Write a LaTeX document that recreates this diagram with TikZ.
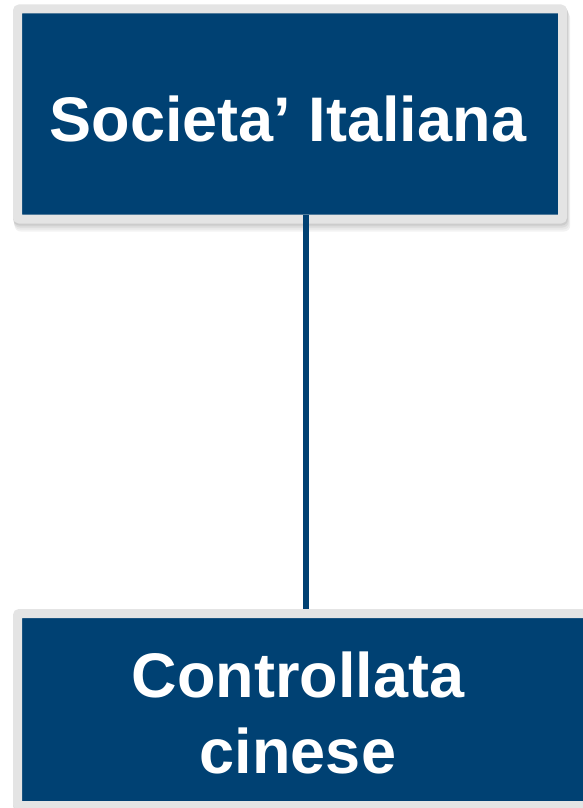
\documentclass[tikz,border=0pt]{standalone}
\usepackage{fontspec}
\setmainfont{Liberation Sans}
\usetikzlibrary{backgrounds,calc}
\definecolor{boxblue}{RGB}{0,65,115}
\definecolor{framegrey}{RGB}{228,228,228}
\begin{document}
\begin{tikzpicture}[x=1pt,y=1pt,
  boxnode/.style={draw=framegrey, line width=9pt, fill=boxblue, rounded corners=2pt, inner sep=0pt, outer sep=0pt},
  labeltext/.style={text=white, font=\bfseries\fontsize{63}{76}\selectfont, align=center, inner sep=0pt},
  link/.style={draw=boxblue, line width=6.3pt}]
\useasboundingbox (0,0) rectangle (582,-808);
\node[boxnode, minimum width=545pt, minimum height=210pt] (top) at (290,-114) {};
\node[boxnode, minimum width=622.5pt, minimum height=192pt] (bot) at (328.75,-709.5) {};
\node[labeltext, anchor=base] (toptext) at (288,-141) {Societa’ Italiana};
\node[labeltext, anchor=base] (bottext) at (298,-773) {Controllata\\cinese};
\begin{scope}[on background layer]
  \foreach \s/\c in {8/5,6/9,4/14,2/20}{
    \fill[black!\c, rounded corners=6pt] ([shift={(-4.5+0.2*\s,-4.5-\s)}]top.south west) rectangle ([shift={(4.5+0.4*\s,4.5-\s)}]top.north east);
    \fill[black!\c, rounded corners=6pt] ([shift={(-4.5+0.2*\s,-4.5-\s)}]bot.south west) rectangle ([shift={(4.5+0.4*\s,4.5-\s)}]bot.north east);
  }
\end{scope}
\coordinate (linkstart) at ([shift={(16,4.5)}]top.south);
\coordinate (linkend) at ([yshift=4.5]linkstart |- bot.north);
\draw[link] (linkstart) -- (linkend);
\end{tikzpicture}
\end{document}
